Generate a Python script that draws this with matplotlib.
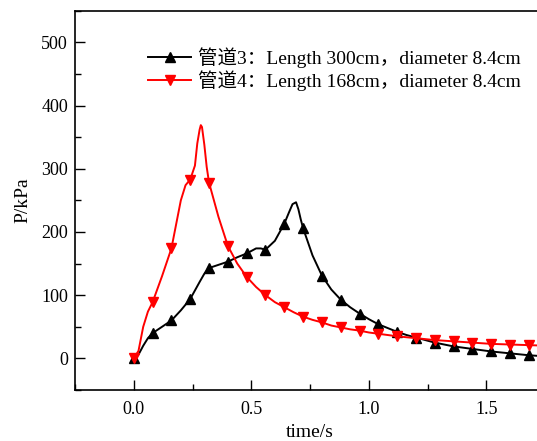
import numpy as np
import matplotlib
matplotlib.use('Agg')
import matplotlib.pyplot as plt
from matplotlib.ticker import MultipleLocator

plt.rcParams['font.family'] = ['Liberation Serif', 'Noto Sans CJK SC']
plt.rcParams['mathtext.fontset'] = 'stix'

# pipe 3: length 300 cm
t3 = [0, 0.02, 0.04, 0.06, 0.08, 0.12, 0.16, 0.20, 0.24, 0.28, 0.30, 0.32, 0.36, 0.40,
      0.44, 0.48, 0.52, 0.54, 0.56, 0.60, 0.64, 0.66, 0.675, 0.69, 0.70, 0.71, 0.72,
      0.76, 0.80, 0.84, 0.88, 0.92, 0.96, 1.00, 1.04, 1.08, 1.12, 1.16, 1.20, 1.24,
      1.28, 1.32, 1.36, 1.40, 1.44, 1.48, 1.52, 1.56, 1.60, 1.64, 1.68, 1.72, 1.76]
p3 = [0, 6, 20, 32, 40, 50, 60, 76, 94, 121, 134, 143, 148, 153,
      160, 166, 174, 174, 172, 186, 213, 231, 244, 247, 236, 220, 206,
      163, 131, 109, 93, 81, 71, 62, 54, 48, 42, 37, 33, 29,
      25, 22, 19, 17, 15, 13, 11, 9.5, 8, 6.5, 5, 4, 3]

# pipe 4: length 168 cm
t4 = [0, 0.02, 0.04, 0.06, 0.08, 0.12, 0.16, 0.20, 0.22, 0.24, 0.26, 0.27, 0.28, 0.285,
      0.29, 0.30, 0.31, 0.32, 0.36, 0.40, 0.44, 0.48, 0.52, 0.56, 0.60, 0.64, 0.68,
      0.72, 0.76, 0.80, 0.84, 0.88, 0.92, 0.96, 1.00, 1.04, 1.08, 1.12, 1.16, 1.20,
      1.24, 1.28, 1.32, 1.36, 1.40, 1.44, 1.48, 1.52, 1.56, 1.60, 1.64, 1.68, 1.72, 1.76]
p4 = [0, 12, 50, 74, 89, 130, 174, 250, 274, 283, 305, 340, 362, 369,
      366, 338, 303, 278, 224, 178, 150, 129, 113, 100, 89, 81, 73,
      66, 61, 57, 52, 49, 46, 44, 41, 39, 37, 35, 33.5, 32,
      30.5, 29, 28, 27, 26, 25, 24, 23, 22.5, 22, 21.5, 21, 20.5, 20]

label3 = '管道3：Length 300cm，diameter 8.4cm'
label4 = '管道4：Length 168cm，diameter 8.4cm'


def marker_idx(t, step=0.08):
    # markers only on the 0.08 s sampling grid
    return [i for i, v in enumerate(t) if abs(v / step - round(v / step)) < 1e-6]


fig = plt.figure(figsize=(5.37, 4.41), dpi=100)
ax = fig.add_axes([0.1397, 0.1156, 0.8757, 0.8601])

ax.plot(t3, p3, color='black', lw=1.4, marker='^', ms=7.5,
        markevery=marker_idx(t3), label=label3)
ax.plot(t4, p4, color='red', lw=1.4, marker='v', ms=7.5,
        markevery=marker_idx(t4), label=label4)

ax.set_xlim(-0.25, 1.75)
ax.set_ylim(-50, 550)
ax.xaxis.set_major_locator(MultipleLocator(0.5))
ax.xaxis.set_minor_locator(MultipleLocator(0.25))
ax.yaxis.set_major_locator(MultipleLocator(100))
ax.yaxis.set_minor_locator(MultipleLocator(50))
ax.tick_params(which='both', direction='in', labelsize=13, width=1)
ax.tick_params(which='major', length=7)
ax.tick_params(which='minor', length=4)
ax.tick_params(axis='x', which='major', pad=8)
ax.tick_params(axis='y', which='major', pad=5)
ax.tick_params(axis='x', which='both', top=False)
ax.tick_params(axis='y', which='both', right=False)
ax.xaxis.set_major_formatter(matplotlib.ticker.FormatStrFormatter('%.1f'))
for s in ax.spines.values():
    s.set_linewidth(1.2)
ax.spines['right'].set_visible(False)

ax.set_xlabel('time/s', fontsize=14, labelpad=4)
ax.set_ylabel('P/kPa', fontsize=14, labelpad=7)

ax.legend(loc='upper left', bbox_to_anchor=(0.262, 0.91), bbox_transform=fig.transFigure,
          frameon=False, fontsize=14, handlelength=2.2, handletextpad=0.36,
          labelspacing=0.12, borderaxespad=0)

fig.savefig('out.png', dpi=100)
